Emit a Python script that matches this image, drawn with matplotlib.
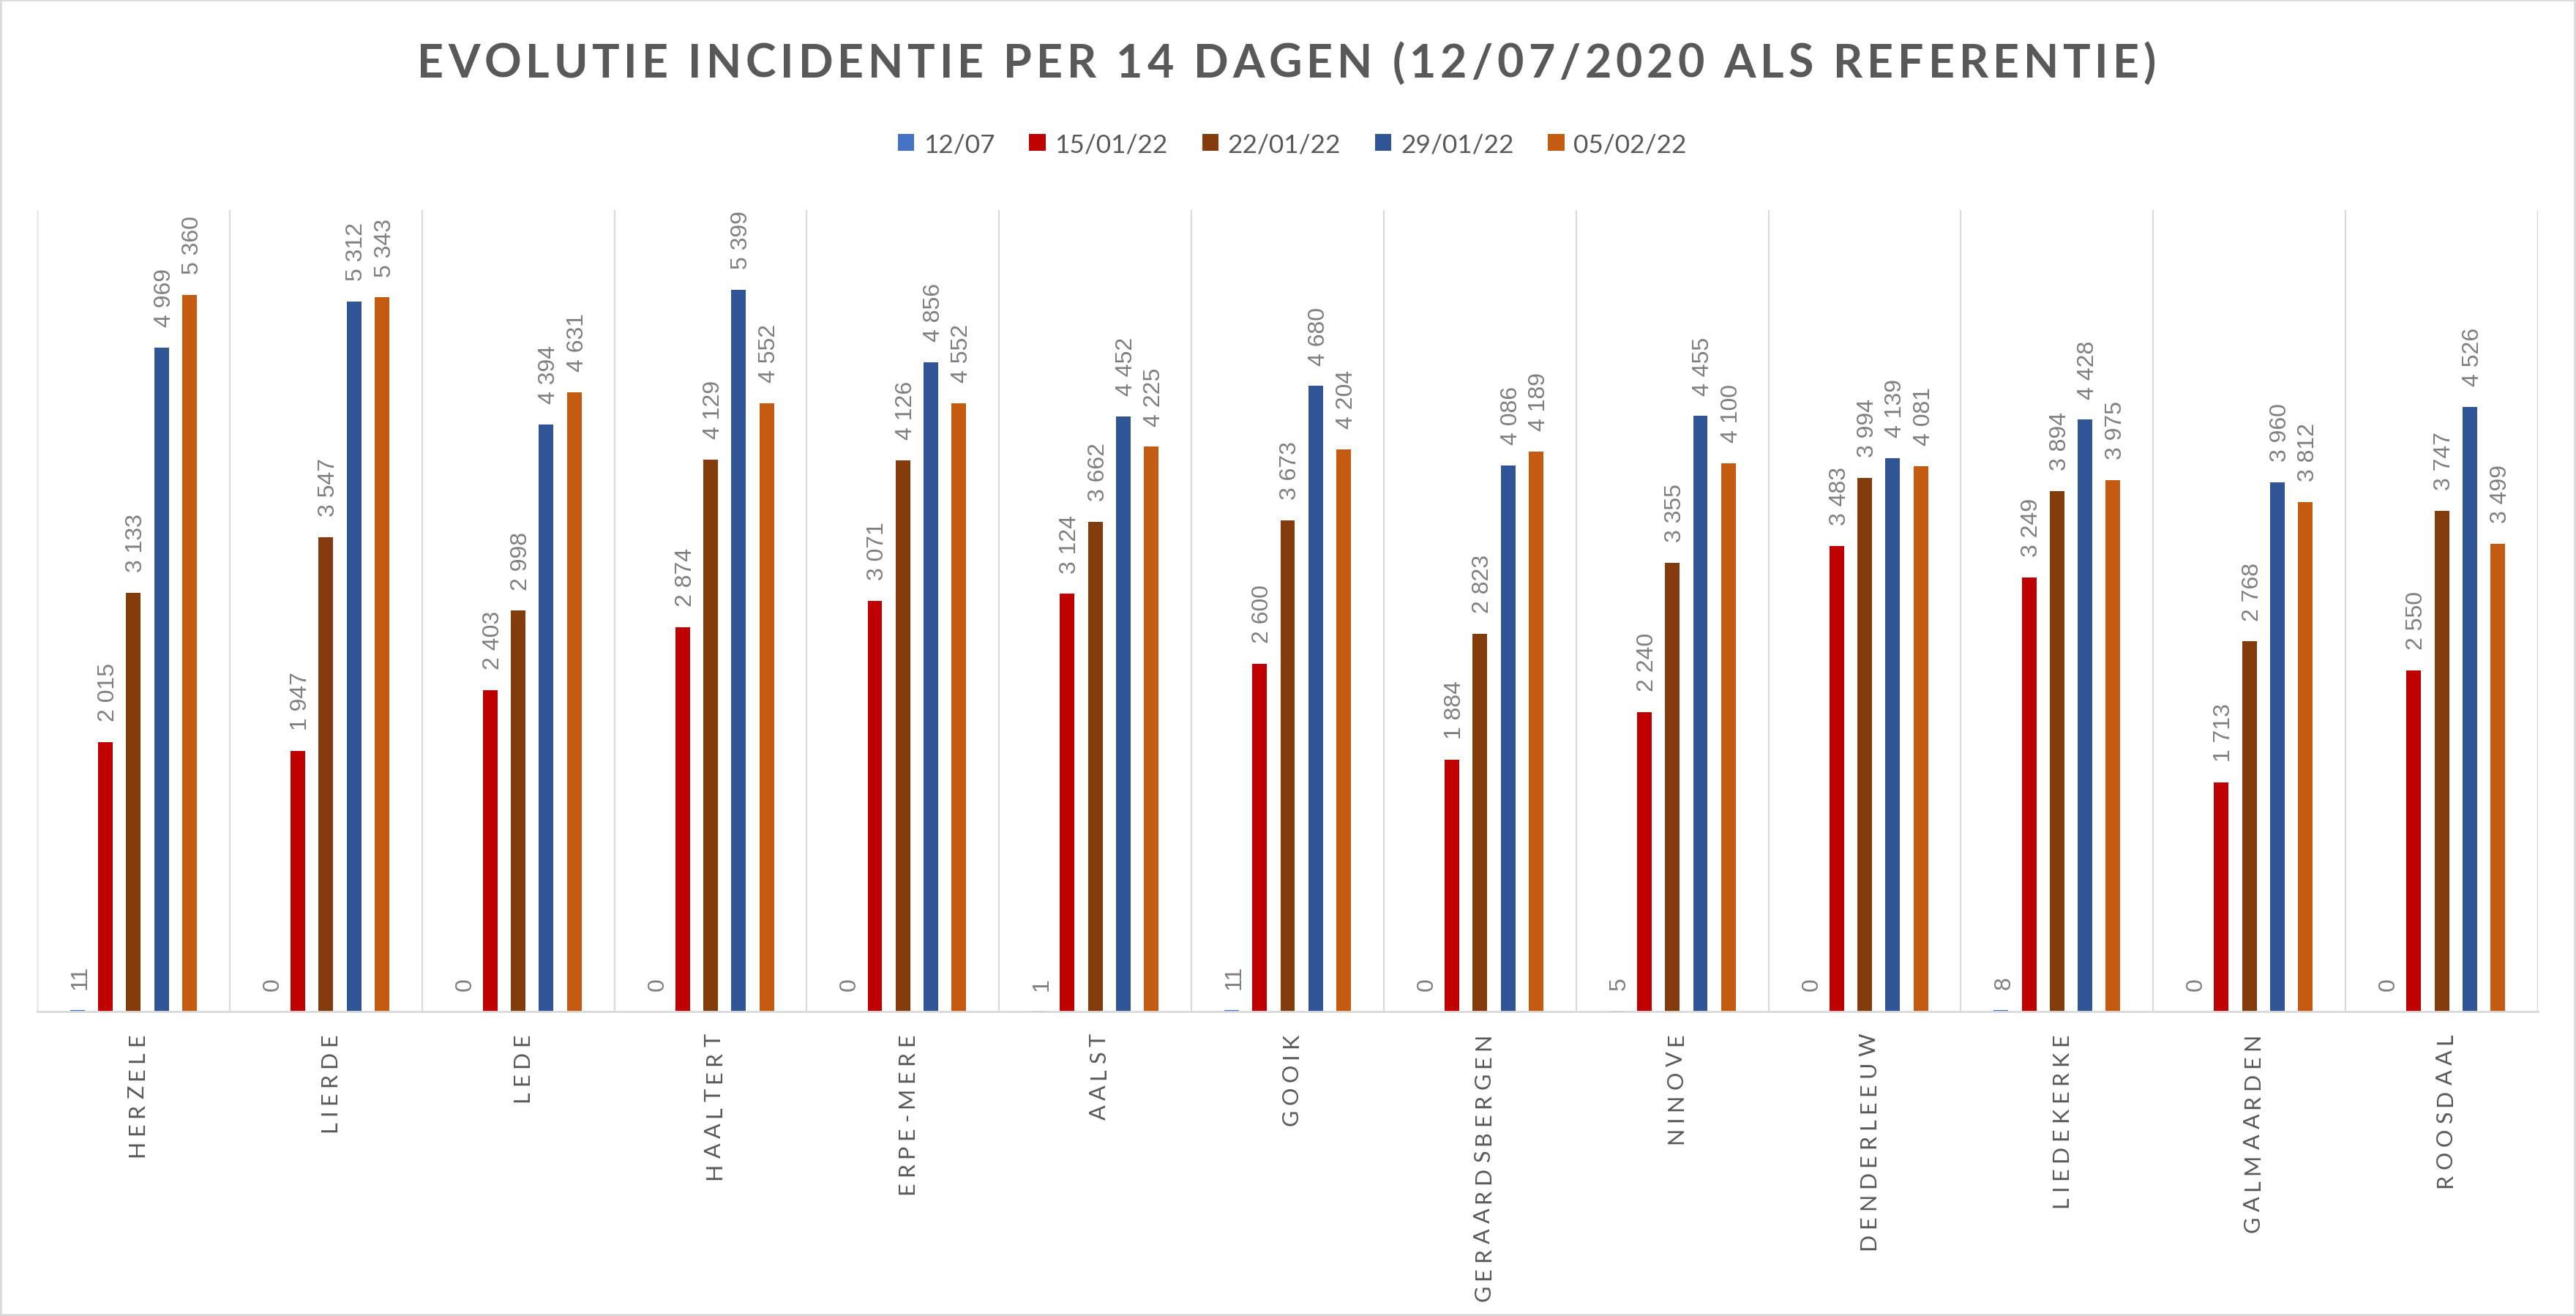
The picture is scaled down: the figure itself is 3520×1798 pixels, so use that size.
import numpy as np
import matplotlib
matplotlib.use("Agg")
import matplotlib.pyplot as plt
from matplotlib.patches import Patch, Rectangle
from matplotlib.font_manager import FontProperties
from matplotlib.transforms import IdentityTransform

gemeenten = ["HERZELE", "LIERDE", "LEDE", "HAALTERT", "ERPE-MERE", "AALST", "GOOIK",
             "GERAARDSBERGEN", "NINOVE", "DENDERLEEUW", "LIEDEKERKE", "GALMAARDEN", "ROOSDAAL"]
reeksen = ["12/07", "15/01/22", "22/01/22", "29/01/22", "05/02/22"]

v_1207 = [11, 0, 0, 0, 0, 1, 11, 0, 5, 0, 8, 0, 0]
v_1501 = [2015, 1947, 2403, 2874, 3071, 3124, 2600, 1884, 2240, 3483, 3249, 1713, 2550]
v_2201 = [3133, 3547, 2998, 4129, 4126, 3662, 3673, 2823, 3355, 3994, 3894, 2768, 3747]
v_2901 = [4969, 5312, 4394, 5399, 4856, 4452, 4680, 4086, 4455, 4139, 4428, 3960, 4526]
v_0502 = [5360, 5343, 4631, 4552, 4552, 4225, 4204, 4189, 4100, 4081, 3975, 3812, 3499]
waarden = [v_1207, v_1501, v_2201, v_2901, v_0502]

kleuren = ["#4472C4", "#C00000", "#843C0C", "#2F5597", "#C55A11"]
grijs = "#595959"

W, H, DPI = 3520, 1799, 200
fig = plt.figure(figsize=(W / DPI, H / DPI), dpi=DPI)
ax = fig.add_axes([51 / W, 1 - 1382.6 / H, (3468 - 51) / W, (1382.6 - 287.5) / H])

x = np.arange(len(gemeenten))
stap = 0.1457
breedte = 0.076
for k, (naam, vals, kl) in enumerate(zip(reeksen, waarden, kleuren)):
    pos = x + (k - 2) * stap
    ax.bar(pos, vals, width=breedte, color=kl, label=naam)
    for p, v in zip(pos, vals):
        ax.annotate(f"{v:,}".replace(",", " "), (p, v), xytext=(1.4, 10.4),
                    textcoords="offset points", rotation=90, ha="center", va="bottom",
                    fontsize=11.5, color="#7F7F7F", family="Liberation Sans")

ax.set_xlim(-0.5, len(gemeenten) - 0.5)
ax.set_ylim(0, 6000)
ax.set_xticks(np.arange(-0.5, len(gemeenten), 1), minor=True)
ax.set_xticks([])
ax.set_yticks([])
ax.grid(which="minor", axis="x", color="#D9D9D9", linewidth=0.8)
ax.tick_params(which="both", length=0)
for s in ["top", "left", "right"]:
    ax.spines[s].set_visible(False)
ax.spines["bottom"].set_color("#D9D9D9")
ax.spines["bottom"].set_linewidth(1.0)
ax.set_axisbelow(True)

renderer = fig.canvas.get_renderer()


def breedte_px(t, fp):
    return renderer.get_text_width_height_descent(t, fp, ismath=False)[0]


def gespatieerd(x0, y0, tekst, fp, spatie, kleur, rot=0):
    # letters one by one with extra letter spacing (excel style)
    totaal = breedte_px(tekst, fp) + (len(tekst) - 1) * spatie
    for i, ch in enumerate(tekst):
        if ch == " ":
            continue
        off = breedte_px(tekst[:i + 1], fp) - breedte_px(ch, fp) + i * spatie
        if rot == 0:
            fig.text(x0 + off, y0, ch, transform=IdentityTransform(), fontproperties=fp,
                     color=kleur, ha="left", va="baseline")
        else:
            fig.text(x0, y0 + off, ch, transform=IdentityTransform(), fontproperties=fp,
                     color=kleur, ha="left", va="baseline", rotation=90,
                     rotation_mode="anchor")
    return totaal


# title
fp_titel = FontProperties(family="Lato", weight="bold", size=22.6)
titel = "EVOLUTIE INCIDENTIE PER 14 DAGEN (12/07/2020 ALS REFERENTIE)"
sp_titel = 5.9
tw = breedte_px(titel, fp_titel) + (len(titel) - 1) * sp_titel
gespatieerd(1758 - tw / 2, H - 106, titel, fp_titel, sp_titel, grijs)

# category labels
fp_cat = FontProperties(family="Lato", size=11.0)
sp_cat = 6.8
for i, naam in enumerate(gemeenten):
    cx, cy = ax.transData.transform((i, 0))
    lw = breedte_px(naam, fp_cat) + (len(naam) - 1) * sp_cat
    gespatieerd(cx + 14, cy - 29 - lw, naam, fp_cat, sp_cat, grijs, rot=90)

# legend
handles = [Patch(facecolor=c, edgecolor="none") for c in kleuren]
fig.legend(handles, reeksen, loc="center", bbox_to_anchor=(0.5017, 1 - 198 / H), ncol=5,
           frameon=False, prop=FontProperties(family="Lato", size=12.7),
           handlelength=0.63, handleheight=0.63, handletextpad=0.36,
           columnspacing=1.33, labelcolor=grijs)

fig.patches.append(Rectangle((0, 0), 1, 1, transform=fig.transFigure, fill=False,
                             edgecolor="#D9D9D9", linewidth=2))

fig.savefig("out.png", dpi=DPI)
